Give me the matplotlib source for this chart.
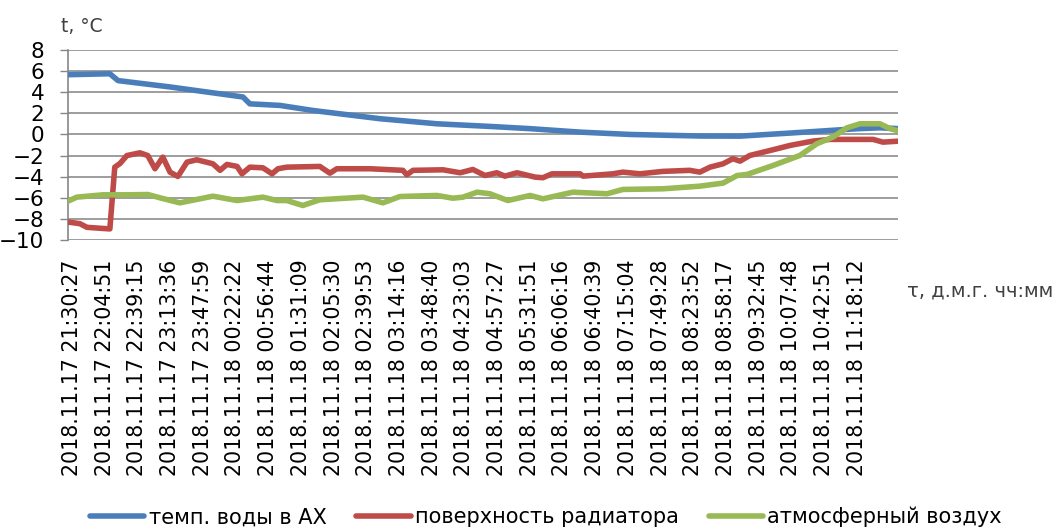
import numpy as np
import matplotlib
matplotlib.use('Agg')
import matplotlib.pyplot as plt

plt.rcParams['font.family'] = ['DejaVu Sans']

# Tick labels on the category axis (every label step = one unit on x)
tick_labels = [
    '2018.11.17 21:30:27', '2018.11.17 22:04:51', '2018.11.17 22:39:15',
    '2018.11.17 23:13:36', '2018.11.17 23:47:59', '2018.11.18 00:22:22',
    '2018.11.18 00:56:44', '2018.11.18 01:31:09', '2018.11.18 02:05:30',
    '2018.11.18 02:39:53', '2018.11.18 03:14:16', '2018.11.18 03:48:40',
    '2018.11.18 04:23:03', '2018.11.18 04:57:27', '2018.11.18 05:31:51',
    '2018.11.18 06:06:16', '2018.11.18 06:40:39', '2018.11.18 07:15:04',
    '2018.11.18 07:49:28', '2018.11.18 08:23:52', '2018.11.18 08:58:17',
    '2018.11.18 09:32:45', '2018.11.18 10:07:48', '2018.11.18 10:42:51',
    '2018.11.18 11:18:12',
]

# temp. of water
water_x = [-0.12, 1.16, 1.41, 3.0, 5.23, 5.44, 6.36, 7.37, 9.42, 11.16, 12.78,
           14.0, 15.54, 17.06, 18.5, 19.2, 20.43, 21.96, 23.49, 24.01, 24.71, 25.3]
water_y = [5.66, 5.75, 5.1, 4.5, 3.55, 2.9, 2.75, 2.27, 1.49, 1.01, 0.76,
           0.55, 0.22, 0.0, -0.1, -0.15, -0.16, 0.13, 0.44, 0.54, 0.63, 0.55]

# radiator surface
rad_x = [-0.12, 0.24, 0.46, 1.16, 1.31, 1.47, 1.68, 2.08, 2.32, 2.54, 2.78,
         3.0, 3.24, 3.52, 3.82, 4.31, 4.53, 4.74, 5.05, 5.2, 5.44, 5.84,
         6.12, 6.3, 6.57, 7.58, 7.89, 8.1, 9.11, 10.12, 10.24, 10.43, 11.35,
         11.87, 12.26, 12.63, 12.99, 13.24, 13.61, 14.16, 14.4, 14.68, 15.54,
         15.63, 16.54, 16.85, 17.37, 18.07, 18.89, 19.2, 19.51, 19.91, 20.21,
         20.43, 20.73, 21.44, 21.96, 22.66, 23.18, 24.5, 24.8, 25.3]
rad_y = [-8.3, -8.45, -8.8, -8.95, -3.1, -2.75, -2.0, -1.74, -2.0, -3.25, -2.15,
         -3.57, -3.98, -2.62, -2.4, -2.78, -3.4, -2.84, -3.03, -3.73, -3.1, -3.16,
         -3.73, -3.25, -3.1, -3.03, -3.67, -3.25, -3.25, -3.4, -3.82, -3.4, -3.35,
         -3.63, -3.32, -3.89, -3.63, -3.95, -3.63, -4.04, -4.1, -3.73, -3.73,
         -3.95, -3.73, -3.57, -3.73, -3.5, -3.4, -3.57, -3.1, -2.78, -2.3,
         -2.53, -1.99, -1.45, -1.04, -0.63, -0.47, -0.47, -0.73, -0.63]

# atmospheric air
air_x = [-0.12, 0.15, 0.95, 1.68, 2.32, 2.69, 3.3, 3.91, 4.31, 5.05, 5.84,
         6.27, 6.57, 7.06, 7.58, 8.9, 9.51, 10.03, 11.16, 11.65, 11.96, 12.39,
         12.78, 13.33, 14.01, 14.4, 15.32, 16.36, 16.85, 18.07, 19.2, 19.91,
         20.34, 20.64, 21.44, 22.26, 22.78, 23.27, 23.7, 24.1, 24.71, 25.02, 25.3]
air_y = [-6.32, -5.94, -5.72, -5.72, -5.69, -6.0, -6.48, -6.1, -5.85, -6.26, -5.94,
         -6.26, -6.26, -6.73, -6.19, -5.94, -6.48, -5.88, -5.78, -6.04, -5.94, -5.47,
         -5.62, -6.26, -5.78, -6.1, -5.47, -5.62, -5.21, -5.15, -4.9, -4.61,
         -3.89, -3.79, -2.94, -1.99, -0.88, -0.25, 0.63, 1.01, 1.01, 0.54, 0.32]

series_names = ['темп. воды в АХ', 'поверхность радиатора', 'атмосферный воздух']
colors = ['#4a7ebb', '#be4b48', '#98b954']

fig = plt.figure(figsize=(10.57, 5.29), dpi=100)
ax = fig.add_axes([68 / 1057, 1 - 240 / 529, (898 - 68) / 1057, 190 / 529])

lw = 4.0
ax.plot(water_x, water_y, color=colors[0], lw=lw, label=series_names[0],
        solid_capstyle='round', zorder=3)
ax.plot(rad_x, rad_y, color=colors[1], lw=lw, label=series_names[1],
        solid_capstyle='round', zorder=3)
ax.plot(air_x, air_y, color=colors[2], lw=lw, label=series_names[2],
        solid_capstyle='round', zorder=4)

ax.set_ylim(-10, 8)
ax.set_yticks(np.arange(-10, 9, 2))
ax.set_xlim(-0.12, 25.26)
ax.set_xticks(np.arange(len(tick_labels)))
ax.set_xticklabels(tick_labels, rotation=90, fontsize=14.8)
ax.tick_params(axis='x', length=0, pad=14)
ax.tick_params(axis='y', length=6, width=1, color='#868686', labelsize=15.5, pad=11)

ax.grid(axis='y', color='#8c8c8c', lw=1.2)
ax.set_axisbelow(True)
for side in ['top', 'right', 'bottom']:
    ax.spines[side].set_visible(False)
ax.spines['left'].set_color('#868686')
ax.spines['left'].set_linewidth(1.2)

fig.text(61 / 1057, 1 - 27 / 529, 't, °C', fontsize=13.5, va='center', ha='left',
         color='#404040')
fig.text(907 / 1057, 1 - 291 / 529, 'τ, д.м.г. чч:мм', fontsize=14,
         va='center', ha='left', color='#404040')

fig.legend(loc='center', bbox_to_anchor=(546 / 1057, 1 - 517 / 529), ncol=3,
           frameon=False, fontsize=15, handlelength=2.6, handletextpad=0.2,
           columnspacing=1.45)

fig.savefig('out.png', dpi=100)
